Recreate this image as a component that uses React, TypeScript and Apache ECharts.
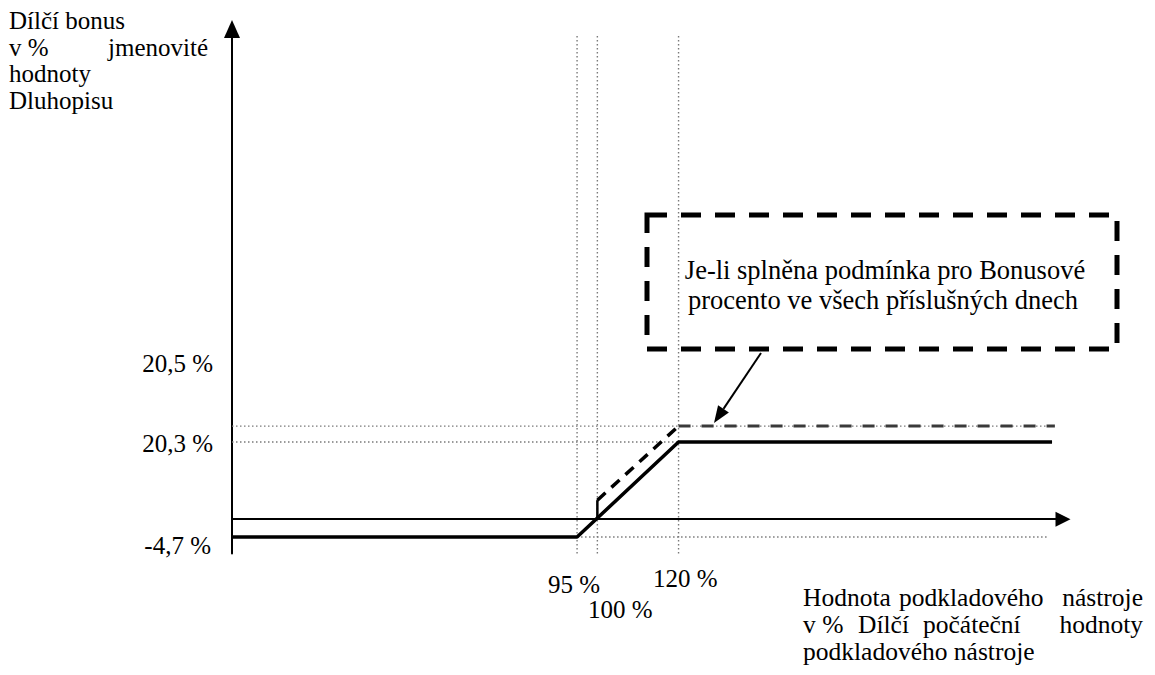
import React, { useEffect, useRef } from "react";
import * as echarts from "echarts";

// ---- Data (schematic payoff diagram) ----
// x: value of the underlying in % of its initial value
// y: partial bonus level (schematic drawing units of the original diagram)
const xBreakpoints = [95, 100, 120];
const floorLevel = -4.7;
const capLevel = 20.3;
const bonusCapLevel = 24.5; // drawn level of the "20,5 %" line in the schematic
const bonusJumpLevel = 5; // height of the jump of the dashed line at 100 %
const xStart = 10;
const xEndSolid = 212;
const xEndDashed = 212.7;
const xEndFloorGuide = 210.7;
const guideTop = 127.4;
const yMin = -9;
const yMax = 129;
const xMax = 214.7;

const solidLine = [
  [xStart, floorLevel],
  [95, floorLevel],
  [120, capLevel],
  [xEndSolid, capLevel],
];
const dashedJump = [
  [100, 0],
  [100, bonusJumpLevel],
];
const dashedRise = [
  [100, bonusJumpLevel],
  [120, bonusCapLevel],
];
const dashedFlat = [
  [120, bonusCapLevel],
  [xEndDashed, bonusCapLevel],
];

const yTickLabels = ["20,5 %", "20,3 %", "-4,7 %"];
const xTickLabels = ["95 %", "100 %", "120 %"];
const yTitleWords = ["Dílčí bonus", "v %", "jmenovité", "hodnoty", "Dluhopisu"];
const xTitleWords = [
  "Hodnota",
  "podkladového",
  "nástroje",
  "v %",
  "Dílčí",
  "počáteční",
  "hodnoty",
  "podkladového nástroje",
];
const boxLines = [
  "Je-li splněna podmínka pro Bonusové",
  "procento ve všech příslušných dnech",
];

const FONT = "Liberation Serif";

function txt(text: string, x: number, y: number, align = "left", size = 25) {
  return {
    type: "text",
    x,
    y,
    silent: true,
    style: {
      text,
      fill: "#000",
      fontSize: size,
      fontFamily: FONT,
      align,
      verticalAlign: "middle",
    },
  };
}

const guideStyle = { color: "#7a7a7a", width: 1.4, type: [1.5, 2.5] as any };

function lineSeries(data: number[][], lineStyle: any, z = 2) {
  return {
    type: "line",
    data,
    symbol: "none",
    silent: true,
    z,
    lineStyle,
  };
}

export default function App() {
  const ref = useRef<HTMLDivElement>(null);
  useEffect(() => {
    if (!ref.current) return;
    const chart = echarts.init(ref.current, undefined, { renderer: "svg" });

    const guides = [
      ...xBreakpoints.map((x) => [
        [x, yMin],
        [x, guideTop],
      ]),
      [
        [xStart, bonusCapLevel],
        [xEndDashed, bonusCapLevel],
      ],
      [
        [xStart, capLevel],
        [xEndSolid, capLevel],
      ],
      [
        [95, floorLevel],
        [xEndFloorGuide, floorLevel],
      ],
    ];

    // callout arrow geometry (annotation)
    const ax0 = 761, ay0 = 353, ax1 = 714, ay1 = 423;
    const dx = ax1 - ax0, dy = ay1 - ay0;
    const len = Math.sqrt(dx * dx + dy * dy);
    const ux = dx / len, uy = dy / len;
    const headL = 17, headW = 6.5;
    const bx = ax1 - ux * headL, by = ay1 - uy * headL;
    const px = -uy, py = ux;

    chart.setOption({
      animation: false,
      backgroundColor: "#fff",
      textStyle: { fontFamily: FONT },
      grid: {
        left: 232,
        top: 29,
        width: 831,
        height: 524.4,
        containLabel: false,
        outerBoundsMode: "none",
      },
      xAxis: {
        type: "value",
        min: xStart,
        max: xMax,
        axisLine: {
          show: true,
          onZero: true,
          symbol: ["none", "triangle"],
          symbolSize: [15, 15],
          lineStyle: { color: "#000", width: 2 },
        },
        axisTick: { show: false },
        axisLabel: { show: false },
        splitLine: { show: false },
      },
      yAxis: {
        type: "value",
        min: yMin,
        max: yMax,
        axisLine: {
          show: true,
          onZero: false,
          symbol: ["none", "triangle"],
          symbolSize: [16, 18],
          lineStyle: { color: "#000", width: 2 },
        },
        axisTick: { show: false },
        axisLabel: { show: false },
        splitLine: { show: false },
      },
      series: [
        ...guides.map((g) => lineSeries(g, guideStyle, 1)),
        lineSeries(solidLine, { color: "#000", width: 3.5 }, 3),
        lineSeries(dashedJump, { color: "#000", width: 2.5 }, 3),
        lineSeries(dashedRise, { color: "#000", width: 3.5, type: [11, 8] }, 3),
        lineSeries(dashedFlat, { color: "#3a3a3a", width: 3, type: [12, 11] }, 3),
      ],
      graphic: [
        // y axis title (justified line 2)
        txt(yTitleWords[0], 9, 20),
        txt(yTitleWords[1], 9, 47),
        txt(yTitleWords[2], 208, 47, "right"),
        txt(yTitleWords[3], 9, 73),
        txt(yTitleWords[4], 9, 100),
        // y tick labels
        txt(yTickLabels[0], 213, 363, "right"),
        txt(yTickLabels[1], 213, 443, "right"),
        txt(yTickLabels[2], 211, 545, "right"),
        // x tick labels
        txt(xTickLabels[0], 548, 584),
        txt(xTickLabels[1], 588, 609),
        txt(xTickLabels[2], 653, 578),
        // x axis title (justified)
        txt(xTitleWords[0], 803, 597, "left", 25.5),
        txt(xTitleWords[1], 899, 597, "left", 25.5),
        txt(xTitleWords[2], 1143, 597, "right", 25.5),
        txt(xTitleWords[3], 803, 624, "left", 25.5),
        txt(xTitleWords[4], 858, 624, "left", 25.5),
        txt(xTitleWords[5], 923, 624, "left", 25.5),
        txt(xTitleWords[6], 1143, 624, "right", 25.5),
        txt(xTitleWords[7], 803, 651, "left", 25.5),
        // dashed annotation box
        {
          type: "rect",
          silent: true,
          shape: { x: 647, y: 215, width: 470, height: 134 },
          style: {
            fill: "none",
            stroke: "#000",
            lineWidth: 5,
            lineDash: [20, 14],
          },
        },
        txt(boxLines[0], 885, 270, "center", 26.5),
        txt(boxLines[1], 883, 300, "center", 26.5),
        // callout arrow
        {
          type: "line",
          silent: true,
          shape: { x1: ax0, y1: ay0, x2: bx, y2: by },
          style: { stroke: "#000", lineWidth: 2 },
        },
        {
          type: "polygon",
          silent: true,
          shape: {
            points: [
              [ax1, ay1],
              [bx + px * headW, by + py * headW],
              [bx - px * headW, by - py * headW],
            ],
          },
          style: { fill: "#000" },
        },
      ],
    });
    return () => chart.dispose();
  }, []);

  return (
    <div
      ref={ref}
      style={{ position: "absolute", left: 0, top: 0, width: 1155, height: 675 }}
    />
  );
}
